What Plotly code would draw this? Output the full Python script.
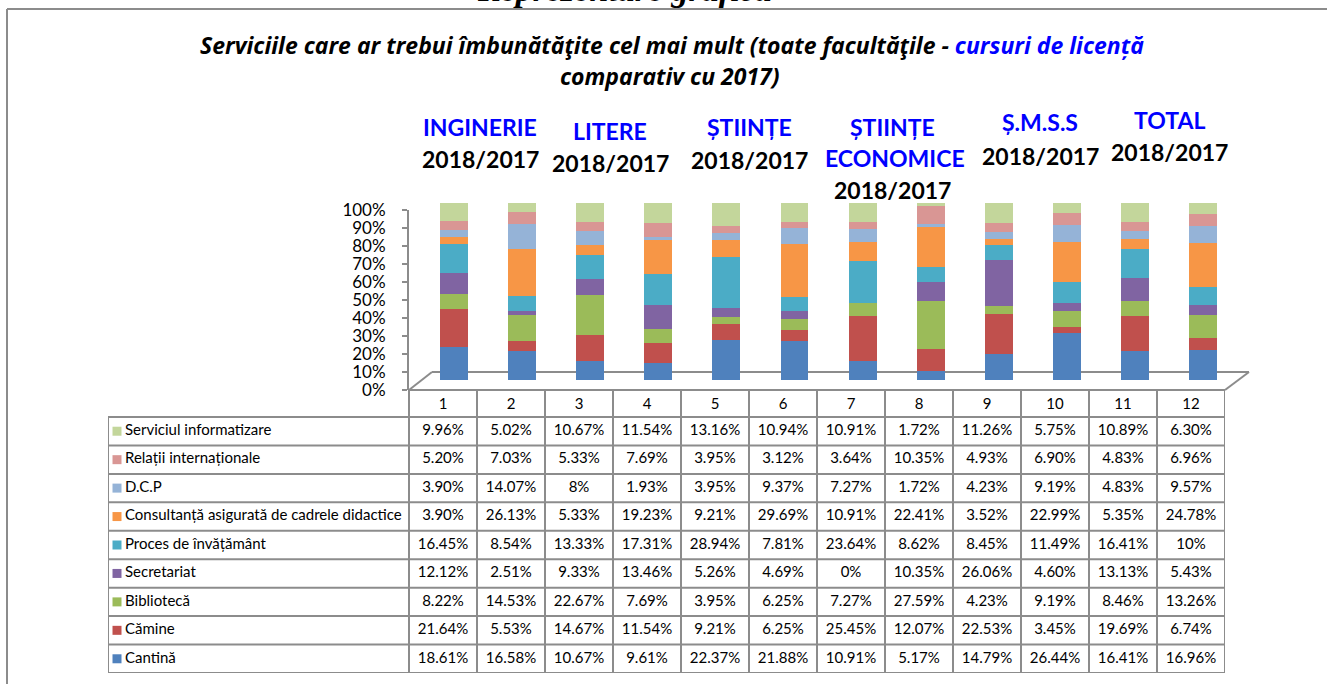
import plotly.graph_objects as go

# ---------------- data ----------------
columns = [str(i) for i in range(1, 13)]
series_names = [
    "Cantină", "Cămine", "Bibliotecă", "Secretariat", "Proces de învățământ",
    "Consultanță asigurată de cadrele didactice", "D.C.P",
    "Relații internaționale", "Serviciul informatizare",
]
cantina = [18.61, 16.58, 10.67, 9.61, 22.37, 21.88, 10.91, 5.17, 14.79, 26.44, 16.41, 16.96]
camine = [21.64, 5.53, 14.67, 11.54, 9.21, 6.25, 25.45, 12.07, 22.53, 3.45, 19.69, 6.74]
biblioteca = [8.22, 14.53, 22.67, 7.69, 3.95, 6.25, 7.27, 27.59, 4.23, 9.19, 8.46, 13.26]
secretariat = [12.12, 2.51, 9.33, 13.46, 5.26, 4.69, 0, 10.35, 26.06, 4.60, 13.13, 5.43]
proces = [16.45, 8.54, 13.33, 17.31, 28.94, 7.81, 23.64, 8.62, 8.45, 11.49, 16.41, 10]
consultanta = [3.90, 26.13, 5.33, 19.23, 9.21, 29.69, 10.91, 22.41, 3.52, 22.99, 5.35, 24.78]
dcp = [3.90, 14.07, 8, 1.93, 3.95, 9.37, 7.27, 1.72, 4.23, 9.19, 4.83, 9.57]
relatii = [5.20, 7.03, 5.33, 7.69, 3.95, 3.12, 3.64, 10.35, 4.93, 6.90, 4.83, 6.96]
informatizare = [9.96, 5.02, 10.67, 11.54, 13.16, 10.94, 10.91, 1.72, 11.26, 5.75, 10.89, 6.30]
series_values = [cantina, camine, biblioteca, secretariat, proces,
                 consultanta, dcp, relatii, informatizare]
series_colors = ["#4F81BD", "#C0504D", "#9BBB59", "#8064A2", "#4BACC6",
                 "#F79646", "#95B3D7", "#D99694", "#C3D69B"]
y_ticks = list(range(0, 101, 10))
y_tick_labels = [f"{v}%" for v in y_ticks]
group_labels = ["INGINERIE", "LITERE", "ȘTIINȚE", "ȘTIINȚE<br>ECONOMICE", "Ș.M.S.S", "TOTAL"]
group_sub = "2018/2017"
title_line1 = ("Serviciile care ar trebui îmbunătăţite cel mai mult (toate facultăţile - "
               "<span style='color:#0000FF'>cursuri de licență</span>")
title_line2 = "comparativ cu 2017)"
top_heading = "Reprezentare grafică"

# ---------------- layout helpers ----------------
W, H = 1327, 684
def px(x):
    return x / W
def py(y):
    return 1 - y / H

FONT = "Lato"
GRID = "#8c8c8c"

def fmt(v):
    return f"{int(v)}%" if float(v).is_integer() else f"{v:.2f}%"

n_cols = len(columns)
n_rows = len(series_names)
col_px = (1225 - 409) / n_cols          # width of one data column in pixels
label_units = (409 - 108) / col_px       # label column width, in column units
x3_min = 0.5 - label_units
row_px = (673 - 417) / n_rows
header_top = n_rows - 0.5 + (417 - 390) / row_px

fig = go.Figure()

# stacked (100%) bars
xs = list(range(1, n_cols + 1))
for name, vals, col in zip(series_names, series_values, series_colors):
    fig.add_trace(go.Bar(
        x=xs, y=vals, name=name, marker=dict(color=col, line=dict(width=0)),
        width=0.41, xaxis="x", yaxis="y", showlegend=False, hoverinfo="name+y",
    ))

# invisible trace binding the visible percentage axis
fig.add_trace(go.Scatter(x=[0.5, 12.5], y=[0, 100], mode="markers", marker=dict(opacity=0),
                         xaxis="x2", yaxis="y2", showlegend=False, hoverinfo="skip"))

# ---------------- data table (axes x3/y3) ----------------
cell_x, cell_y, cell_t = [], [], []
for s in range(n_rows):
    for k in range(n_cols):
        cell_x.append(k + 1)
        cell_y.append(s)
        cell_t.append(fmt(series_values[s][k]))
fig.add_trace(go.Scatter(x=cell_x, y=cell_y, text=cell_t, mode="text",
                         textposition="middle center",
                         textfont=dict(family=FONT, size=15, color="black"),
                         xaxis="x3", yaxis="y3", showlegend=False, hoverinfo="skip"))
# header numbers
fig.add_trace(go.Scatter(x=xs, y=[n_rows - 0.5 + (417 - 405) / row_px] * n_cols, text=columns,
                         mode="text", textposition="middle center",
                         textfont=dict(family=FONT, size=15, color="black"),
                         xaxis="x3", yaxis="y3", showlegend=False, hoverinfo="skip"))
# legend keys and names
key_x = x3_min + (117 - 108) / col_px
name_x = x3_min + (125 - 108) / col_px
fig.add_trace(go.Scatter(x=[key_x] * n_rows, y=list(range(n_rows)), mode="markers",
                         marker=dict(symbol="square", size=9, color=series_colors, line=dict(width=0)),
                         xaxis="x3", yaxis="y3", showlegend=False, hoverinfo="skip"))
fig.add_trace(go.Scatter(x=[name_x] * n_rows, y=list(range(n_rows)), text=series_names,
                         mode="text", textposition="middle right",
                         textfont=dict(family=FONT, size=15, color="black"),
                         xaxis="x3", yaxis="y3", showlegend=False, hoverinfo="skip"))

fig.update_layout(
    width=W, height=H, margin=dict(l=0, r=0, t=0, b=0, autoexpand=False),
    paper_bgcolor="white", plot_bgcolor="rgba(0,0,0,0)",
    barmode="stack", barnorm="percent", bargap=0,
    font=dict(family=FONT, color="black"),
    xaxis=dict(domain=[px(420), px(1237)], range=[0.5, 12.5], visible=False, anchor="y"),
    yaxis=dict(domain=[py(380), py(203)], range=[0, 100], visible=False, anchor="x"),
    xaxis2=dict(domain=[px(409), px(1225)], range=[0.5, 12.5], visible=False, anchor="y2"),
    yaxis2=dict(domain=[py(390), py(210)], range=[0, 100], anchor="x2",
                tickvals=y_ticks, ticktext=y_tick_labels, showgrid=False, zeroline=False,
                showline=True, linecolor=GRID, linewidth=2, ticks="outside", ticklen=5,
                tickcolor=GRID, tickwidth=2, ticklabelstandoff=13, automargin=False,
                tickfont=dict(family=FONT, size=17, color="black")),
    xaxis3=dict(domain=[px(108), px(1225)], range=[x3_min, n_cols + 0.5], visible=False,
                anchor="y3"),
    yaxis3=dict(domain=[py(673), py(390)], range=[-0.5, header_top], visible=False,
                anchor="x3"),
)

shapes = []
line_style = dict(color=GRID, width=2)
# table grid
for r in range(n_rows + 1):
    shapes.append(dict(type="line", xref="x3", yref="y3", x0=x3_min, x1=n_cols + 0.5,
                       y0=r - 0.5, y1=r - 0.5))
for c in range(n_cols + 1):
    shapes.append(dict(type="line", xref="x3", yref="y3", x0=c + 0.5, x1=c + 0.5,
                       y0=-0.5, y1=header_top))
shapes.append(dict(type="line", xref="x3", yref="y3", x0=x3_min, x1=x3_min,
                   y0=-0.5, y1=n_rows - 0.5))
# 3D floor
shapes += [
    dict(type="line", xref="paper", yref="paper", x0=px(409), y0=py(390), x1=px(432), y1=py(372)),
    dict(type="line", xref="paper", yref="paper", x0=px(432), y0=py(372), x1=px(1249), y1=py(372)),
    dict(type="line", xref="paper", yref="paper", x0=px(1249), y0=py(372), x1=px(1225), y1=py(390)),
    dict(type="line", xref="paper", yref="paper", x0=px(409), y0=py(390), x1=px(1225), y1=py(390)),
]
# outer frame
shapes += [
    dict(type="line", xref="paper", yref="paper", x0=px(7), y0=py(9), x1=1, y1=py(9)),
    dict(type="line", xref="paper", yref="paper", x0=px(7), y0=py(9), x1=px(7), y1=0),
]
for s in shapes:
    s["line"] = line_style
    s["layer"] = "below"
fig.update_layout(shapes=shapes)

ann = []
ann.append(dict(text=f"<b><i>{top_heading}</i></b>", x=px(624), y=py(10), xref="paper", yref="paper",
                xanchor="center", yanchor="bottom", showarrow=False,
                font=dict(family="Liberation Serif", size=34, color="black")))
ann.append(dict(text=f"<b><i>{title_line1}</i></b>", x=px(672), y=py(45), xref="paper", yref="paper",
                xanchor="center", yanchor="middle", showarrow=False,
                font=dict(family="Open Sans", size=23, color="black")))
ann.append(dict(text=f"<b><i>{title_line2}</i></b>", x=px(670), y=py(76), xref="paper", yref="paper",
                xanchor="center", yanchor="middle", showarrow=False,
                font=dict(family="Open Sans", size=23, color="black")))

grp_pos = [(480, 127, 159), (610, 131, 163), (749, 127, 160),
           (892, 127, 190), (1040, 122, 156), (1169, 120, 152)]
for lab, (gx, gy, sy) in zip(group_labels, grp_pos):
    parts = lab.split("<br>")
    ann.append(dict(text=f"<b>{parts[0]}</b>", x=px(gx), y=py(gy), xref="paper", yref="paper",
                    showarrow=False, xanchor="center", yanchor="middle",
                    font=dict(family=FONT, size=23, color="#0000FF")))
    if len(parts) > 1:
        ann.append(dict(text=f"<b>{parts[1]}</b>", x=px(gx + 3), y=py(158), xref="paper", yref="paper",
                        showarrow=False, xanchor="center", yanchor="middle",
                        font=dict(family=FONT, size=23, color="#0000FF")))
    ann.append(dict(text=f"<b>{group_sub}</b>", x=px(gx), y=py(sy), xref="paper", yref="paper",
                    showarrow=False, xanchor="center", yanchor="middle",
                    font=dict(family=FONT, size=23, color="black")))
fig.update_layout(annotations=ann)

fig.write_html("out.html", config={"displayModeBar": False},
               post_script="document.body.style.margin='0';")
